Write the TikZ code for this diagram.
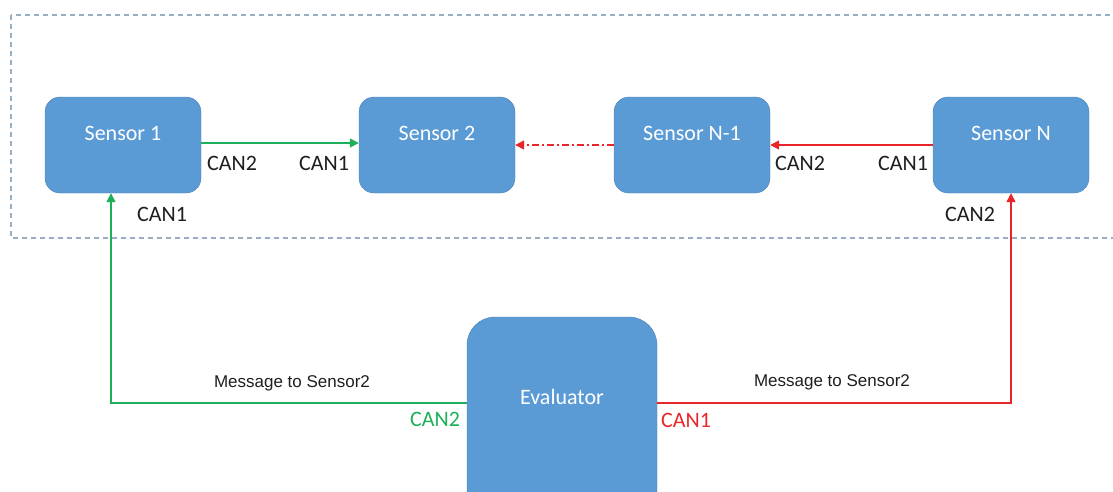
\documentclass[tikz,border=0pt]{standalone}
\usepackage{fontspec}
\setmainfont{Carlito}
\newfontfamily\msgfont{Liberation Sans}
\usetikzlibrary{arrows.meta}

\definecolor{boxFill}{HTML}{5B9BD5}
\definecolor{boxEdge}{HTML}{4A7FB5}
\definecolor{canGreen}{HTML}{1DAF5A}
\definecolor{canRed}{HTML}{E8262A}
\definecolor{frameBlue}{HTML}{98AEC6}
\definecolor{labelGrey}{HTML}{1E1E1E}

\tikzstyle{sensorNode}=[draw=boxEdge,fill=boxFill,rounded corners=15pt,minimum width=156pt,minimum height=96pt,inner sep=0pt,text=white,font=\fontsize{22}{26}\selectfont,text height=14pt,text depth=24pt]
\tikzstyle{canLabel}=[text=labelGrey,font=\fontsize{22}{26}\selectfont,inner sep=0pt]
\tikzstyle{msgLabel}=[text=labelGrey,font=\msgfont\fontsize{17}{20}\selectfont,inner sep=0pt]
\tikzstyle{busGreen}=[-{Triangle[length=9pt,width=9pt]}, line width=1.5pt, canGreen]
\tikzstyle{busRed}=[-{Triangle[length=9pt,width=9pt]}, line width=1.5pt, canRed]

\begin{document}
\begin{tikzpicture}[x=1pt,y=-1pt]
		\useasboundingbox (0,0) rectangle (1113,491);
		\clip (0,0) rectangle (1113,491);
		\draw[frameBlue,line width=1.1pt,dash pattern=on 5pt off 4pt] (11,15) rectangle (1125,238);
		
		\node[sensorNode] (s1) at (123,145) {Sensor 1};
		\node[sensorNode] (s2) at (437,145) {Sensor 2};
		\node[sensorNode] (sn1) at (692,145) {Sensor N-1};
		\node[sensorNode] (sn) at (1011,145) {Sensor N};
		\node[sensorNode,rounded corners=28pt,minimum width=190pt,minimum height=200pt,text depth=40pt] (ev) at (562,417) {Evaluator};
		
		\draw[busGreen] ([yshift=2pt]s1.east) -- ([yshift=2pt]s2.west);
		\draw[busRed,dash pattern=on 7pt off 3pt on 2pt off 3pt] (sn1.west) -- (s2.east);
		\draw[busRed] (sn.west) -- (sn1.east);
		\draw[busGreen] ([yshift=14pt]ev.west) -| ([xshift=-12pt]s1.south);
		\draw[busRed] ([yshift=14pt]ev.east) -| (sn.south);
		
		\node[canLabel] (s1can2) at (232,163) {CAN2};
		\node[canLabel] (s2can1) at (324,163) {CAN1};
		\node[canLabel] (s1can1) at (162,214) {CAN1};
		\node[canLabel] (sn1can2) at (800,163) {CAN2};
		\node[canLabel] (sncan1) at (903,163) {CAN1};
		\node[canLabel] (sncan2) at (970,214) {CAN2};
		\node[canLabel,text=canGreen] (evcan2) at (435,419) {CAN2};
		\node[canLabel,text=canRed] (evcan1) at (686,420) {CAN1};
		\node[msgLabel] (msgleft) at (292,383) {Message to Sensor2};
		\node[msgLabel] (msgright) at (832,382) {Message to Sensor2};
\end{tikzpicture}
\end{document}
